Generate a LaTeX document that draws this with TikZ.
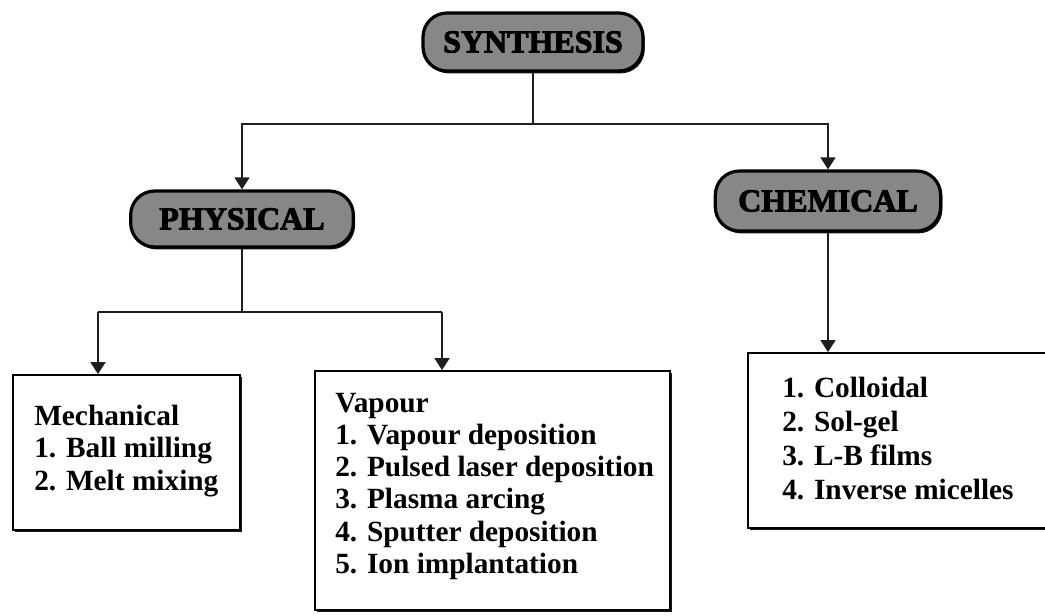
\documentclass[tikz,border=0pt]{standalone}
\usepackage{fontspec}
\setmainfont{Liberation Serif}
\newfontfamily\pillfont{Liberation Serif Bold}[FakeBold=3]
\usetikzlibrary{arrows.meta,shadows}
\definecolor{pillgray}{RGB}{135,135,135}
\definecolor{linegray}{RGB}{30,30,30}
\begin{document}
\begin{tikzpicture}[x=0.75pt,y=-0.75pt,
  pill/.style={draw=black, line width=2.4pt, fill=pillgray, rounded corners=18pt, inner sep=0pt,
    font=\pillfont\fontsize{24}{24}\selectfont,
    drop shadow={shadow xshift=1.3pt, shadow yshift=-1.8pt, opacity=0.9, fill=black}},
  frame/.style={draw=black, line width=1.3pt, fill=white, inner sep=0pt,
    drop shadow={shadow xshift=1.4pt, shadow yshift=-1.8pt, opacity=0.9, fill=black}},
  list/.style={anchor=base west, inner sep=0pt, font=\bfseries\fontsize{22}{#1}\selectfont},
  conn/.style={draw=linegray, line width=1.9pt},
  arr/.style={conn, -{Triangle[width=11pt,length=9pt]}}
]
\useasboundingbox (0,0) rectangle (1045,615);
\fill[white] (0,0) rectangle (1045,615);
\clip (0,0) rectangle (1045,615);

% category pills
\node[pill, minimum width=165pt, minimum height=43.5pt] (syn) at (533,42) {SYNTHESIS};
\node[pill, minimum width=167pt, minimum height=42pt] (phy) at (242,219) {PHYSICAL};
\node[pill, minimum width=169pt, minimum height=45pt] (che) at (828,201) {CHEMICAL};

% method boxes
\node[frame, minimum width=170.25pt, minimum height=116.25pt] (mech) at (126.5,452.5) {};
\node[frame, minimum width=266.25pt, minimum height=179.25pt] (vap) at (492.5,490.5) {};
\node[frame, minimum width=241.5pt, minimum height=131.25pt] (chb) at (909,440.5) {};

\node[list=24.4pt] (mechtxt) at (34,425)
  {\begin{tabular}[t]{@{}l@{}}Mechanical\\1. Ball milling\\2. Melt mixing\end{tabular}};
\node[list=24.2pt] (vaptxt) at (335,412)
  {\begin{tabular}[t]{@{}l@{}}Vapour\\1. Vapour deposition\\2. Pulsed laser deposition\\3. Plasma arcing\\4. Sputter deposition\\5. Ion implantation\end{tabular}};
\node[list=25.5pt] (chemtxt) at (782,397)
  {\begin{tabular}[t]{@{}l@{}}1. Colloidal\\2. Sol-gel\\3. L-B films\\4. Inverse micelles\end{tabular}};

% connectors
\coordinate (j1) at (533,124);
\draw[conn] (syn.south) -- (j1);
\draw[arr] (j1) -| (phy.north);
\draw[arr] (j1) -| (che.north);

\coordinate (j2) at (242,312);
\coordinate (j2l) at (98,312);
\coordinate (j2r) at (442,312);
\draw[conn] (phy.south) -- (j2);
\draw[conn] (j2l) -- (j2r);
\draw[arr] (j2l) -- (j2l |- mech.north);
\draw[arr] (j2r) -- (j2r |- vap.north);

\draw[arr] (che.south) -- (che.south |- chb.north);
\end{tikzpicture}
\end{document}
